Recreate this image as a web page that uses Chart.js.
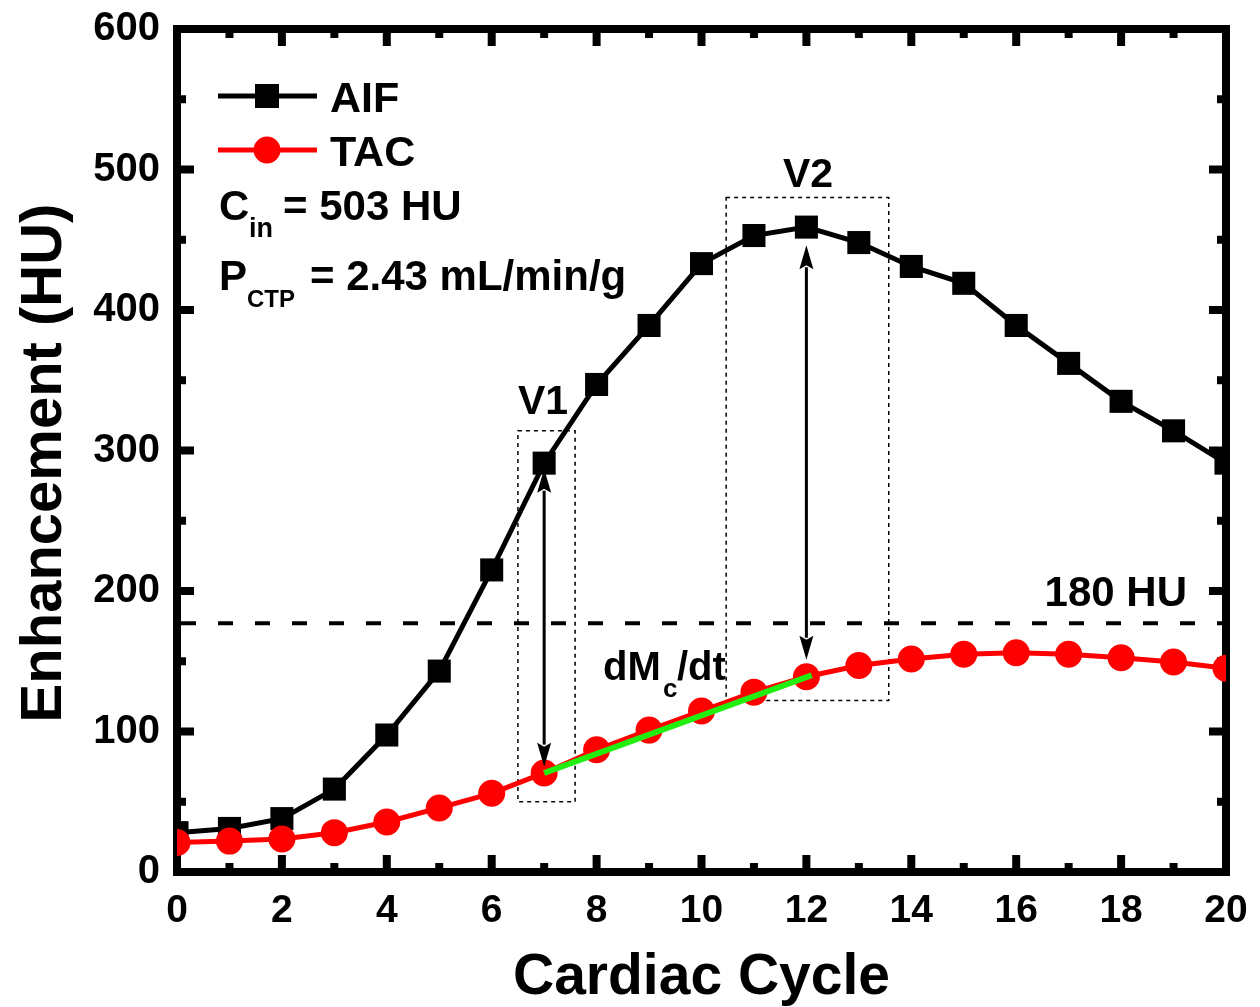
<!DOCTYPE html>
<html>
<head>
<meta charset="utf-8">
<script src="https://cdn.jsdelivr.net/npm/chart.js@4.4.1/dist/chart.umd.min.js"></script>
<style>
  html, body { margin: 0; padding: 0; background: #fff; }
  #wrap { width: 1260px; height: 1007px; }
</style>
</head>
<body>
<div id="wrap"><canvas id="c" width="1260" height="1007"></canvas></div>
<script>
// ---------------- data ----------------
const cycles = [0, 1, 2, 3, 4, 5, 6, 7, 8, 9, 10, 11, 12, 13, 14, 15, 16, 17, 18, 19, 20];
const aif = [28, 31, 38, 59, 97.5, 143, 215, 291, 347, 389, 433, 453, 459, 448, 431, 419, 389, 362, 335, 314, 291];
const tac = [21, 22, 23.5, 28, 35.6, 45.6, 56, 70.5, 87, 101, 114.6, 128, 139, 147, 151.6, 155, 156, 155, 152.5, 149.5, 145];
const xTickValues = [0, 2, 4, 6, 8, 10, 12, 14, 16, 18, 20];
const yTickValues = [0, 100, 200, 300, 400, 500, 600];
const thresholdHU = 177;
const thresholdLabel = '180 HU';
const slopeSegment = [[7, 70.5], [12.1, 140]];
const arrowV1 = [7, 287, 75];
const arrowV2 = [12, 446, 151];
const boxV1 = [6.5, 7.59, 50, 314];
const boxV2 = [10.47, 13.57, 122, 480];

// ---------------- styles ----------------
const FONT = '"Liberation Sans", Arial, Helvetica, sans-serif';
const bold = (s) => 'bold ' + s + 'px ' + FONT;

const decorPlugin = {
  id: 'decor',
  beforeDatasetsDraw(chart) {
    const { ctx, chartArea: a, scales: { x, y } } = chart;
    ctx.save();
    ctx.strokeStyle = '#000';
    ctx.lineWidth = 1.5;
    ctx.setLineDash([4, 4]);
    [boxV1, boxV2].forEach(b => {
      const x0 = x.getPixelForValue(b[0]), x1 = x.getPixelForValue(b[1]);
      const y0 = y.getPixelForValue(b[2]), y1 = y.getPixelForValue(b[3]);
      ctx.strokeRect(x0, y1, x1 - x0, y0 - y1);
    });
    ctx.lineWidth = 4;
    ctx.setLineDash([15, 22]);
    const ty = y.getPixelForValue(thresholdHU);
    ctx.beginPath();
    ctx.moveTo(a.left + 4, ty);
    ctx.lineTo(a.right - 4, ty);
    ctx.stroke();
    ctx.setLineDash([]);
    ctx.lineWidth = 8;
    ctx.strokeRect(a.left, a.top, a.right - a.left, a.bottom - a.top);
    ctx.fillStyle = '#000';
    const tw = 8, majL = 17, minL = 9;
    for (let v = 0; v <= 20; v += 1) {
      const px = x.getPixelForValue(v);
      const L = (v % 2 === 0) ? majL : minL;
      ctx.fillRect(px - tw / 2, a.bottom - L, tw, L);
      ctx.fillRect(px - tw / 2, a.top, tw, L);
    }
    for (let v = 0; v <= 600; v += 50) {
      const py = y.getPixelForValue(v);
      const L = (v % 100 === 0) ? majL : minL;
      ctx.fillRect(a.left, py - tw / 2, L, tw);
      ctx.fillRect(a.right - L, py - tw / 2, L, tw);
    }
    ctx.restore();
  },
  afterDatasetsDraw(chart) {
    const { ctx, chartArea: a, scales: { x, y } } = chart;
    ctx.save();
    ctx.strokeStyle = '#22ee11';
    ctx.lineWidth = 6;
    ctx.lineCap = 'butt';
    ctx.beginPath();
    ctx.moveTo(x.getPixelForValue(slopeSegment[0][0]), y.getPixelForValue(slopeSegment[0][1]));
    ctx.lineTo(x.getPixelForValue(slopeSegment[1][0]), y.getPixelForValue(slopeSegment[1][1]));
    ctx.stroke();

    const drawArrow = (ar) => {
      const px = x.getPixelForValue(ar[0]);
      const yt = y.getPixelForValue(ar[1]);
      const yb = y.getPixelForValue(ar[2]);
      const hl = 24, hw = 7;
      ctx.strokeStyle = '#000';
      ctx.fillStyle = '#000';
      ctx.lineWidth = 3;
      ctx.beginPath();
      ctx.moveTo(px, yt + hl - 2);
      ctx.lineTo(px, yb - hl + 2);
      ctx.stroke();
      ctx.beginPath();
      ctx.moveTo(px, yt); ctx.lineTo(px - hw, yt + hl); ctx.lineTo(px, yt + hl - 4); ctx.lineTo(px + hw, yt + hl); ctx.closePath();
      ctx.fill();
      ctx.beginPath();
      ctx.moveTo(px, yb); ctx.lineTo(px - hw, yb - hl); ctx.lineTo(px, yb - hl + 4); ctx.lineTo(px + hw, yb - hl); ctx.closePath();
      ctx.fill();
    };
    drawArrow(arrowV1);
    drawArrow(arrowV2);

    ctx.fillStyle = '#000';
    ctx.textBaseline = 'alphabetic';
    ctx.font = bold(41);
    ctx.textAlign = 'center';
    ctx.fillText('V1', 543, 414);
    ctx.fillText('V2', 808, 187);
    ctx.font = bold(42);
    ctx.textAlign = 'right';
    ctx.fillText(thresholdLabel, 1187, 606);
    ctx.textAlign = 'left';
    ctx.font = bold(40);
    ctx.fillText('dM', 603, 680);
    ctx.font = bold(26);
    ctx.fillText('c', 663, 697);
    ctx.font = bold(40);
    ctx.fillText('/dt', 677, 680);

    const ds = chart.data.datasets;
    const lx0 = 218, lx1 = 317, mx = 267;
    ctx.strokeStyle = ds[0].borderColor; ctx.lineWidth = 5;
    ctx.beginPath(); ctx.moveTo(lx0, 96); ctx.lineTo(lx1, 96); ctx.stroke();
    ctx.fillStyle = ds[0].borderColor;
    ctx.fillRect(mx - 12, 96 - 12, 24, 24);
    ctx.strokeStyle = ds[1].borderColor;
    ctx.beginPath(); ctx.moveTo(lx0, 150); ctx.lineTo(lx1, 150); ctx.stroke();
    ctx.fillStyle = ds[1].borderColor;
    ctx.beginPath(); ctx.arc(mx, 150, 13.5, 0, Math.PI * 2); ctx.fill();

    ctx.fillStyle = '#000';
    ctx.font = bold(43);
    ctx.fillText(ds[0].label, 330, 112);
    ctx.fillText(ds[1].label, 330, 166);
    ctx.font = bold(42);
    ctx.fillText('C', 219, 220);
    ctx.font = bold(27);
    ctx.fillText('in', 249, 237);
    ctx.font = bold(42);
    ctx.fillText('= 503 HU', 283, 220);
    ctx.fillText('P', 219, 290);
    ctx.font = bold(24);
    ctx.fillText('CTP', 247, 307);
    ctx.font = bold(42);
    ctx.fillText('= 2.43 mL/min/g', 310, 290);
    ctx.restore();
  },
  afterDraw(chart) {
    const { ctx, chartArea: a } = chart;
    ctx.save();
    ctx.fillStyle = '#000';
    ctx.font = bold(57);
    ctx.textAlign = 'center';
    ctx.textBaseline = 'alphabetic';
    ctx.fillText('Cardiac Cycle', (a.left + a.right) / 2, 994);
    ctx.font = bold(58);
    ctx.translate(61, 463);
    ctx.rotate(-Math.PI / 2);
    ctx.fillText('Enhancement (HU)', 0, 0);
    ctx.restore();
  }
};

const toPts = (ys) => cycles.map((c, i) => ({ x: c, y: ys[i] }));

new Chart(document.getElementById('c'), {
  type: 'line',
  data: {
    datasets: [
      {
        label: 'AIF', data: toPts(aif), order: 1,
        borderColor: '#000000', backgroundColor: '#000000', borderWidth: 5,
        pointStyle: 'rect', pointRadius: 16.3, pointBorderWidth: 0,
        pointBackgroundColor: '#000000', pointHoverRadius: 16.3,
        tension: 0, clip: 0, fill: false
      },
      {
        label: 'TAC', data: toPts(tac), order: 0,
        borderColor: '#ff0000', backgroundColor: '#ff0000', borderWidth: 5,
        pointStyle: 'circle', pointRadius: 13.5, pointBorderWidth: 0,
        pointBackgroundColor: '#ff0000', pointHoverRadius: 13.5,
        tension: 0, clip: 0, fill: false
      }
    ]
  },
  options: {
    responsive: false,
    animation: false,
    events: [],
    layout: { padding: { top: 29, right: 34, left: 0, bottom: 0 } },
    plugins: { legend: { display: false }, tooltip: { enabled: false }, title: { display: false } },
    scales: {
      x: {
        type: 'linear', min: 0, max: 20,
        afterFit: (s) => { s.height = 135; s.paddingLeft = 0; s.paddingRight = 0; },
        afterBuildTicks: (s) => { s.ticks = xTickValues.map(v => ({ value: v })); },
        grid: { display: false, drawTicks: false },
        border: { display: false },
        ticks: { color: '#000', font: { family: FONT, size: 39, weight: 'bold' }, padding: 16, maxRotation: 0, autoSkip: false }
      },
      y: {
        type: 'linear', min: 0, max: 600,
        afterFit: (s) => { s.width = 177; s.paddingTop = 0; s.paddingBottom = 0; },
        afterBuildTicks: (s) => { s.ticks = yTickValues.map(v => ({ value: v })); },
        grid: { display: false, drawTicks: false },
        border: { display: false },
        ticks: { color: '#000', font: { family: FONT, size: 40, weight: 'bold' }, padding: 17, autoSkip: false }
      }
    }
  },
  plugins: [decorPlugin]
});
</script>
</body>
</html>
